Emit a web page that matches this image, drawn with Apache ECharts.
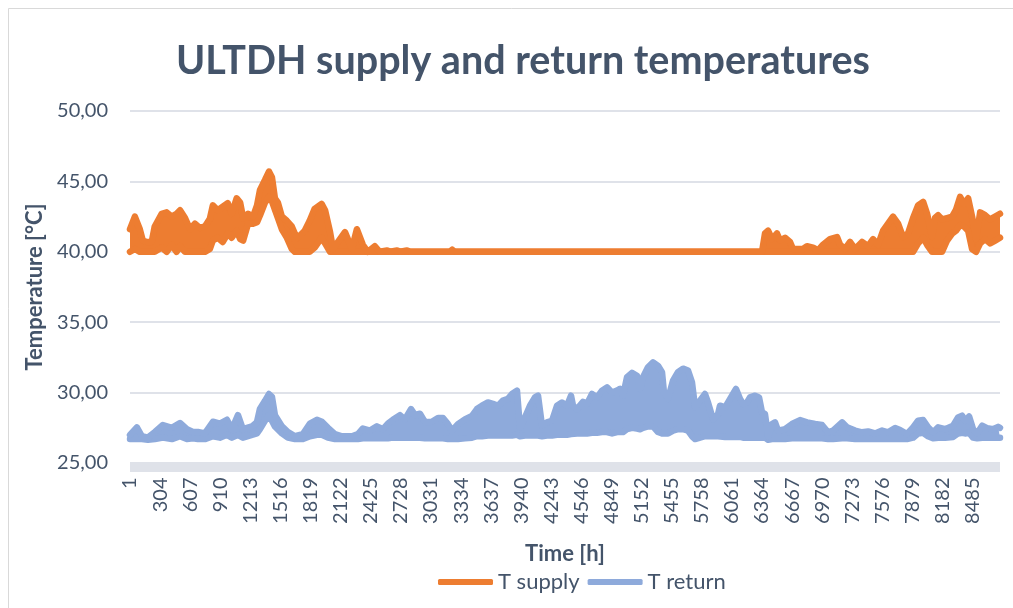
<!DOCTYPE html>
<html>
<head>
<meta charset="utf-8">
<script src="https://cdn.jsdelivr.net/npm/echarts@6/dist/echarts.min.js"></script>
<style>
html, body { margin: 0; padding: 0; background: #fff; }
#chart { width: 1013px; height: 608px; }
</style>
</head>
<body>
<div id="chart"></div>
<script>
var supplyHours = [1, 50, 100, 130, 170, 220, 250, 320, 370, 420, 470, 505, 555, 605, 655, 705, 755, 805, 835, 885,
  935, 985, 1025, 1075, 1110, 1140, 1190, 1240, 1280, 1310, 1360, 1400, 1430, 1460, 1490, 1530, 1580, 1630, 1660, 1690,
  1760, 1810, 1860, 1930, 1965, 2015, 2045, 2165, 2235, 2285, 2345, 2395, 2465, 2515, 2590, 2620, 2690, 2720, 2790, 2820,
  3220, 3245, 3270, 6364, 6394, 6425, 6465, 6515, 6546, 6596, 6646, 6676, 6777, 6817, 6878, 6928, 6978, 7049, 7119, 7150,
  7200, 7250, 7301, 7371, 7432, 7482, 7532, 7583, 7633, 7683, 7734, 7784, 7834, 7885, 7935, 7986, 8026, 8076, 8106, 8137,
  8177, 8227, 8278, 8318, 8358, 8398, 8439, 8479, 8519, 8560, 8610, 8660, 8711, 8760];
var supplyHigh = [41.6, 42.5, 41.6, 40.8, 40.7, 40.7, 41.8, 42.7, 42.8, 42.5, 42.7, 42.95, 42.4, 41.6, 42.0, 41.7, 41.8, 42.35, 43.3, 42.95,
  43.2, 43.45, 42.7, 43.8, 43.5, 42.4, 42.7, 42.5, 43.3, 44.4, 45.1, 45.7, 45.3, 43.8, 43.5, 42.5, 42.2, 41.8, 41.3, 41.0,
  41.5, 42.2, 43.05, 43.4, 42.95, 41.4, 40.2, 41.4, 40.2, 41.6, 40.5, 40.0, 40.4, 40.0, 40.1, 40.0, 40.1, 40.0, 40.1, 40.0,
  40.0, 40.15, 40.0, 40.0, 41.3, 41.5, 40.9, 41.3, 40.8, 41.0, 40.7, 40.2, 40.2, 40.4, 40.3, 40.1, 40.5, 40.9, 41.05, 40.5,
  40.2, 40.7, 40.2, 40.7, 40.4, 40.9, 40.5, 41.5, 42.0, 42.5, 42.0, 41.05, 41.3, 42.4, 43.3, 43.55, 42.7, 41.05, 42.4, 42.6,
  42.3, 42.4, 42.5, 43.0, 43.9, 43.4, 43.8, 42.5, 40.9, 42.8, 42.6, 42.3, 42.5, 42.7];
var supplyLow = [40.0, 40.2, 40.0, 40.0, 40.0, 40.0, 40.0, 40.3, 40.0, 40.5, 40.0, 40.4, 40.0, 40.0, 40.0, 40.0, 40.0, 40.2, 40.8, 41.0,
  40.7, 41.3, 41.0, 41.5, 40.9, 40.8, 42.0, 42.0, 42.1, 42.6, 43.5, 43.9, 43.6, 43.0, 42.4, 41.6, 41.0, 40.2, 40.0, 40.0,
  40.0, 40.0, 40.3, 41.0, 40.6, 40.0, 40.0, 40.0, 40.0, 40.0, 40.0, 40.0, 40.0, 40.0, 40.0, 40.0, 40.0, 40.0, 40.0, 40.0,
  40.0, 40.0, 40.0, 40.0, 40.0, 40.0, 40.0, 40.0, 40.0, 40.0, 40.0, 40.0, 40.0, 40.0, 40.0, 40.0, 40.0, 40.0, 40.0, 40.0,
  40.0, 40.0, 40.0, 40.0, 40.0, 40.0, 40.0, 40.0, 40.0, 40.0, 40.0, 40.0, 40.0, 40.0, 40.6, 41.0, 40.5, 40.0, 40.0, 40.0,
  40.0, 40.8, 41.3, 41.5, 41.9, 41.8, 41.5, 40.2, 40.0, 40.6, 40.9, 40.6, 40.8, 41.0];

var returnHours = [1, 70, 121, 181, 252, 332, 423, 504, 574, 634, 685, 755, 836, 906, 977, 1027, 1088, 1138, 1229, 1279,
  1309, 1359, 1400, 1430, 1460, 1531, 1591, 1662, 1742, 1813, 1883, 1933, 1994, 2064, 2135, 2236, 2296, 2346, 2417, 2487,
  2548, 2598, 2648, 2719, 2769, 2830, 2870, 2920, 2971, 3041, 3102, 3152, 3202, 3243, 3303, 3373, 3444, 3494, 3545, 3605,
  3655, 3706, 3756, 3806, 3847, 3897, 3927, 3978, 4028, 4078, 4109, 4149, 4199, 4250, 4300, 4350, 4401, 4441, 4461, 4501,
  4562, 4602, 4652, 4703, 4753, 4803, 4854, 4904, 4934, 4965, 5005, 5055, 5105, 5136, 5166, 5216, 5267, 5317, 5357, 5377,
  5418, 5468, 5518, 5569, 5619, 5659, 5690, 5740, 5790, 5820, 5871, 5921, 5941, 5992, 6022, 6062, 6102, 6143, 6173, 6213,
  6243, 6294, 6334, 6364, 6394, 6425, 6465, 6495, 6525, 6596, 6666, 6747, 6817, 6898, 6968, 7029, 7079, 7170, 7220, 7301,
  7371, 7432, 7502, 7573, 7633, 7704, 7754, 7824, 7885, 7935, 7986, 8036, 8086, 8137, 8207, 8288, 8338, 8378, 8408, 8449,
  8489, 8529, 8580, 8630, 8690, 8741, 8760];
var returnHigh = [27.0, 27.53, 26.9, 26.8, 27.2, 27.7, 27.5, 27.84, 27.4, 27.2, 27.2, 27.1, 27.93, 27.8, 28.07, 27.4, 28.4, 27.4, 27.6, 27.9,
  28.83, 29.4, 29.9, 29.7, 28.4, 27.6, 27.2, 26.9, 27.05, 27.8, 28.07, 27.93, 27.5, 27.05, 26.9, 26.9, 27.05, 27.45, 27.3, 27.6,
  27.4, 27.8, 28.07, 28.4, 28.1, 28.83, 28.4, 28.5, 27.9, 27.93, 28.2, 28.2, 27.76, 27.29, 27.76, 28.1, 28.35, 28.83, 29.07, 29.3,
  29.2, 29.07, 29.43, 29.55, 29.9, 30.14, 27.5, 28.24, 29.07, 29.66, 29.78, 27.64, 27.88, 28.0, 29.07, 29.3, 29.07, 29.78, 29.07, 28.83,
  29.35, 29.2, 29.9, 29.66, 30.14, 30.37, 30.0, 30.14, 30.26, 29.78, 31.09, 31.4, 31.2, 30.26, 31.09, 31.8, 32.15, 31.9, 31.45, 30.0,
  29.55, 30.85, 31.45, 31.7, 31.57, 30.73, 28.95, 29.43, 29.9, 29.3, 28.1, 28.47, 29.07, 28.95, 29.3, 29.78, 30.26, 29.55, 29.2, 29.3,
  29.66, 29.78, 29.66, 28.6, 28.47, 26.9, 27.77, 27.89, 27.3, 27.4, 27.77, 28.05, 27.89, 27.77, 27.7, 27.18, 27.3, 27.89, 27.53, 27.3,
  27.18, 27.24, 27.1, 27.3, 27.18, 27.48, 27.34, 27.06, 27.53, 28.0, 28.05, 27.53, 27.18, 27.53, 27.4, 27.65, 28.24, 28.36, 28.0, 28.3,
  27.4, 27.1, 27.65, 27.48, 27.4, 27.57, 27.5];
var returnLow = [26.7, 26.7, 26.7, 26.65, 26.7, 26.8, 26.7, 26.9, 26.7, 26.75, 26.7, 26.7, 26.9, 26.8, 27.0, 26.8, 27.0, 26.8, 27.0, 27.1,
  27.4, 28.0, 28.4, 28.0, 27.6, 27.1, 26.8, 26.7, 26.7, 26.9, 27.0, 27.0, 26.8, 26.7, 26.7, 26.7, 26.7, 26.75, 26.75, 26.75,
  26.75, 26.75, 26.8, 26.8, 26.8, 26.8, 26.8, 26.8, 26.75, 26.75, 26.75, 26.75, 26.7, 26.7, 26.7, 26.75, 26.8, 26.9, 26.9, 26.95,
  26.95, 26.95, 26.95, 26.95, 26.95, 27.0, 26.9, 26.95, 26.95, 26.95, 26.95, 26.9, 26.95, 26.95, 27.0, 27.0, 27.0, 27.05, 27.1, 27.1,
  27.1, 27.1, 27.15, 27.15, 27.2, 27.2, 27.1, 27.2, 27.2, 27.2, 27.4, 27.5, 27.45, 27.4, 27.5, 27.6, 27.6, 27.2, 27.1, 27.1,
  27.1, 27.3, 27.4, 27.4, 27.3, 26.9, 26.7, 26.8, 26.9, 26.9, 26.9, 26.9, 26.9, 26.85, 26.85, 26.85, 26.85, 26.85, 26.8, 26.8,
  26.8, 26.8, 26.8, 26.8, 26.8, 26.65, 26.7, 26.7, 26.7, 26.7, 26.75, 26.75, 26.75, 26.75, 26.75, 26.7, 26.7, 26.75, 26.75, 26.7,
  26.7, 26.7, 26.7, 26.7, 26.7, 26.7, 26.7, 26.7, 26.8, 27.1, 27.15, 26.9, 26.75, 26.8, 26.8, 26.85, 27.1, 27.15, 27.1, 27.15,
  26.8, 26.75, 26.8, 26.8, 26.8, 26.8, 26.8];

// x axis categories: every hour of the year
var hourLabels = [];
for (var i = 1; i <= 8760; i++) hourLabels.push(String(i));

var textColor = '#44546a';
var supplyColor = '#ed7d31';
var returnColor = '#8eaadb';
var fontFamily = 'Lato, "Open Sans", sans-serif';
var lineW = 6.5;

function lowData(hours, low) {
  return hours.map(function (h, i) { return [h - 1, low[i]]; });
}
function spanData(hours, high, low) {
  return hours.map(function (h, i) { return [h - 1, +(high[i] - low[i]).toFixed(3)]; });
}

function bandSeries(name, stack, data, color, filled) {
  var s = {
    name: name,
    type: 'line',
    stack: stack,
    data: data,
    showSymbol: false,
    symbol: 'none',
    animation: false,
    lineStyle: { color: color, width: lineW, cap: 'round', join: 'round' },
    itemStyle: { color: color }
  };
  if (filled) s.areaStyle = { color: color, opacity: 1 };
  return s;
}

var chart = echarts.init(document.getElementById('chart'));
var option = {
  backgroundColor: '#fff',
  animation: false,
  graphic: [{
    type: 'rect',
    shape: { x: 8.5, y: 8.5, width: 1100, height: 700 },
    style: { fill: 'none', stroke: '#d9d9d9', lineWidth: 1 },
    silent: true
  }],
  title: {
    text: 'ULTDH supply and return temperatures',
    left: 171,
    top: 36,
    textStyle: { color: textColor, fontSize: 39.5, fontWeight: 'bold', fontFamily: fontFamily }
  },
  legend: {
    data: ['T supply', 'T return'],
    bottom: 10,
    left: 433,
    icon: 'roundRect',
    itemWidth: 55,
    itemHeight: 6,
    itemGap: 8,
    textStyle: { color: textColor, fontSize: 22, fontFamily: fontFamily }
  },
  grid: { left: 130, right: 13, top: 111, bottom: 145 },
  xAxis: {
    type: 'category',
    data: hourLabels,
    boundaryGap: false,
    offset: 4.5,
    name: 'Time [h]',
    nameLocation: 'middle',
    nameGap: 75,
    nameTextStyle: { color: textColor, fontSize: 22, fontWeight: 'bold', fontFamily: fontFamily },
    axisLine: { lineStyle: { color: '#dfe2e9', width: 9, cap: 'butt' } },
    axisTick: { show: false },
    axisLabel: {
      interval: 302,
      rotate: 90,
      margin: 10,
      color: textColor,
      fontSize: 20,
      fontFamily: fontFamily
    },
    splitLine: { show: false }
  },
  yAxis: {
    type: 'value',
    min: 25,
    max: 50,
    interval: 5,
    name: 'Temperature [°C]',
    nameLocation: 'middle',
    nameGap: 84,
    nameTextStyle: { color: textColor, fontSize: 22, fontWeight: 'bold', fontFamily: fontFamily },
    axisLine: { show: false },
    axisTick: { show: false },
    axisLabel: {
      margin: 22,
      color: textColor,
      fontSize: 20,
      fontFamily: fontFamily,
      formatter: function (v) { return v.toFixed(2).replace('.', ','); }
    },
    splitLine: { lineStyle: { color: '#dfe2e9', width: 2 } }
  },
  series: [
    bandSeries('supply low', 'sup', lowData(supplyHours, supplyLow), supplyColor, false),
    bandSeries('T supply', 'sup', spanData(supplyHours, supplyHigh, supplyLow), supplyColor, true),
    bandSeries('return low', 'ret', lowData(returnHours, returnLow), returnColor, false),
    bandSeries('T return', 'ret', spanData(returnHours, returnHigh, returnLow), returnColor, true)
  ]
};
chart.setOption(option);
</script>
</body>
</html>
